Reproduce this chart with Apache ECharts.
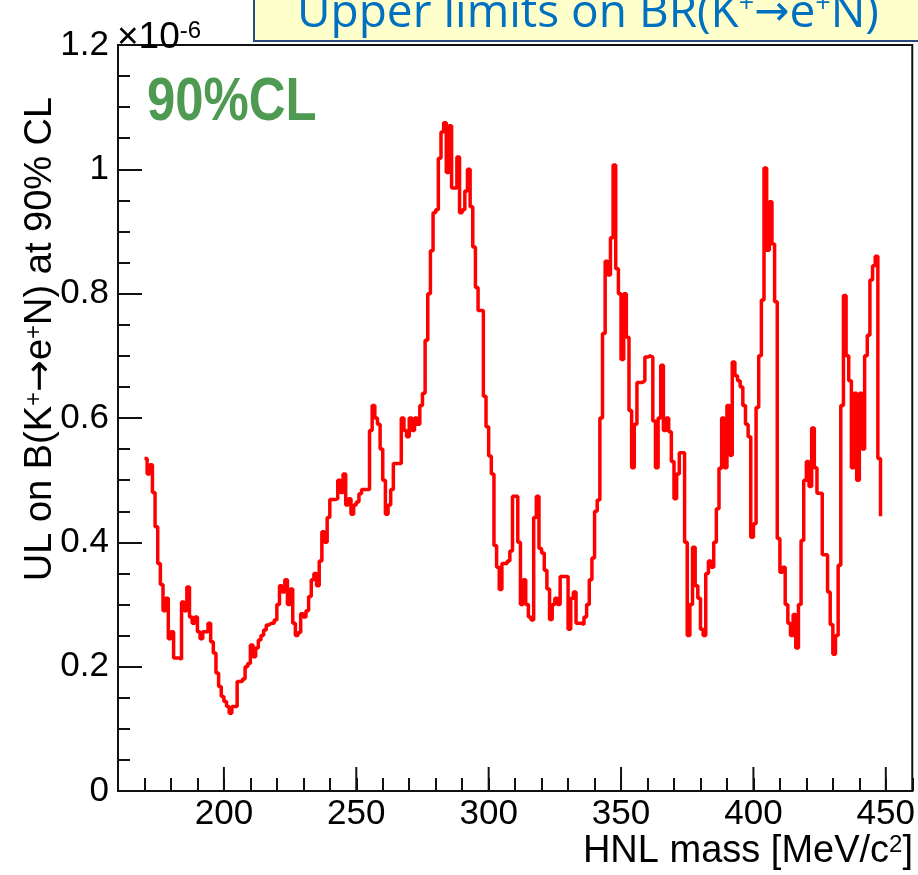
<!DOCTYPE html>
<html>
<head>
<meta charset="utf-8">
<script src="https://cdn.jsdelivr.net/npm/echarts@6/dist/echarts.min.js"></script>
<style>
  html, body { margin: 0; padding: 0; background: #ffffff; }
  #chart { width: 918px; height: 875px; }
</style>
</head>
<body>
<div id="chart"></div>
<script>
// Upper limit on B(K+ -> e+ N) at 90% CL, in units of 1e-6,
// one entry per 1 MeV/c^2 mass bin starting at firstBinMass.
const firstBinMass = 170;
const binWidth = 1;
const ulValues = [
  0.535, 0.51, 0.525, 0.48, 0.425, 0.366, 0.332, 0.29, 0.31, 0.245,     // 170-179
  0.256, 0.214, 0.214, 0.212, 0.304, 0.29, 0.328, 0.28, 0.27, 0.28,     // 180-189
  0.256, 0.245, 0.256, 0.256, 0.27, 0.24, 0.222, 0.19, 0.168, 0.152,    // 190-199
  0.144, 0.136, 0.125, 0.136, 0.136, 0.176, 0.176, 0.18, 0.2, 0.205,    // 200-209
  0.235, 0.216, 0.23, 0.243, 0.25, 0.259, 0.267, 0.27, 0.27, 0.275,     // 210-219
  0.3, 0.33, 0.32, 0.34, 0.3, 0.325, 0.27, 0.25, 0.255, 0.285,          // 220-229
  0.28, 0.29, 0.313, 0.34, 0.35, 0.33, 0.37, 0.417, 0.4, 0.44,          // 230-239
  0.469, 0.469, 0.47, 0.5, 0.48, 0.51, 0.46, 0.47, 0.445, 0.46,         // 240-249
  0.465, 0.478, 0.485, 0.485, 0.485, 0.58, 0.62, 0.6, 0.59, 0.55,       // 250-259
  0.5, 0.445, 0.46, 0.485, 0.527, 0.527, 0.527, 0.6, 0.58, 0.57,        // 260-269
  0.6, 0.58, 0.6, 0.59, 0.62, 0.64, 0.725, 0.8, 0.869, 0.93,            // 270-279
  0.935, 1.018, 1.06, 1.075, 0.995, 1.07, 0.97, 0.97, 1.02, 0.93,       // 280-289
  0.935, 0.965, 1.0, 0.94, 0.875, 0.81, 0.773, 0.773, 0.635, 0.586,     // 290-299
  0.539, 0.51, 0.395, 0.36, 0.324, 0.366, 0.366, 0.37, 0.386, 0.474,    // 300-309
  0.474, 0.4, 0.3, 0.34, 0.3, 0.28, 0.275, 0.44, 0.474, 0.39,           // 310-319
  0.383, 0.355, 0.325, 0.276, 0.3, 0.31, 0.3, 0.345, 0.345, 0.345,      // 320-329
  0.26, 0.31, 0.32, 0.27, 0.27, 0.268, 0.28, 0.3, 0.34, 0.375,          // 330-339
  0.45, 0.468, 0.6, 0.736, 0.852, 0.83, 0.89, 1.007, 0.84, 0.8,         // 340-349
  0.694, 0.8, 0.73, 0.612, 0.52, 0.59, 0.657, 0.657, 0.66, 0.698,       // 350-359
  0.7, 0.698, 0.595, 0.52, 0.6, 0.685, 0.58, 0.6, 0.578, 0.53,          // 360-369
  0.47, 0.51, 0.544, 0.544, 0.4, 0.25, 0.3, 0.392, 0.33, 0.31,          // 370-379
  0.26, 0.25, 0.35, 0.37, 0.36, 0.4, 0.454, 0.519, 0.6, 0.52,           // 380-389
  0.62, 0.54, 0.69, 0.668, 0.66, 0.65, 0.62, 0.59, 0.57, 0.408,         // 390-399
  0.43, 0.617, 0.7, 0.79, 1.002, 0.87, 0.948, 0.88, 0.787, 0.406,       // 400-409
  0.352, 0.36, 0.3, 0.27, 0.25, 0.284, 0.23, 0.3, 0.403, 0.5,           // 410-419
  0.53, 0.49, 0.584, 0.52, 0.479, 0.479, 0.38, 0.38, 0.32, 0.268,       // 420-429
  0.22, 0.25, 0.363, 0.62, 0.797, 0.7, 0.66, 0.52, 0.64, 0.5,           // 430-439
  0.64, 0.55, 0.7, 0.733, 0.822, 0.845, 0.86, 0.535                    // 440-447
];
// value the histogram drops to at its upper edge
const lastEdgeValue = 0.442;

const xMin = 160, xMax = 460;
const xMajorTicks = [200, 250, 300, 350, 400, 450];
const yMin = 0, yMax = 1.2, yStep = 0.2;

const TXT = 'Liberation Sans, Arial, Helvetica, sans-serif';
const ARROW_FONT = 'DejaVu Sans, sans-serif';
const BANNER_FONT = 'Open Sans, DejaVu Sans, sans-serif';

// bin low edges paired with values, closed with the upper edge of the last bin
const stepPoints = ulValues.map((v, i) => [firstBinMass + i * binWidth, v]);
stepPoints.push([firstBinMass + ulValues.length * binWidth, lastEdgeValue]);

const chart = echarts.init(document.getElementById('chart'), null, { renderer: 'canvas' });

function titleRich(size) {
  return {
    s: { fontSize: Math.round(size * 0.62), fontFamily: TXT, fill: '#000', verticalAlign: 'top' },
    a: { fontSize: size, fontFamily: ARROW_FONT, fill: '#000' }
  };
}

chart.setOption({
  animation: false,
  backgroundColor: '#ffffff',
  grid: {
    left: 118, top: 45, width: 798, height: 746,
    show: true, borderColor: '#111', borderWidth: 2, backgroundColor: 'transparent'
  },
  xAxis: {
    type: 'value', min: xMin, max: xMax, interval: 10,
    axisLine: { show: true, lineStyle: { color: '#111', width: 2 } },
    axisTick: { show: true, inside: true, length: 13, lineStyle: { color: '#111', width: 2 } },
    splitLine: { show: false },
    axisLabel: {
      fontSize: 35, fontFamily: TXT, color: '#000', margin: 6,
      formatter: v => (xMajorTicks.indexOf(v) >= 0 ? String(v) : '')
    }
  },
  yAxis: {
    type: 'value', min: yMin, max: yMax, interval: yStep,
    axisLine: { show: true, lineStyle: { color: '#111', width: 2 } },
    axisTick: { show: true, inside: true, length: 24, lineStyle: { color: '#111', width: 2 } },
    minorTick: { show: true, splitNumber: 4, length: 12, lineStyle: { color: '#111', width: 2 } },
    splitLine: { show: false },
    minorSplitLine: { show: false },
    axisLabel: { fontSize: 35, fontFamily: TXT, color: '#000', margin: 9 }
  },
  series: [
    {
      name: 'UL 90% CL',
      type: 'line',
      step: 'end',
      data: stepPoints,
      showSymbol: false,
      lineStyle: { color: '#ff0000', width: 3.5 },
      z: 5
    },
    {
      // long ticks at the labelled masses
      name: 'major ticks',
      type: 'custom',
      silent: true,
      clip: false,
      data: xMajorTicks.map(v => [v, yMin]),
      renderItem: function (params, api) {
        const p = api.coord([api.value(0), api.value(1)]);
        return {
          type: 'line',
          shape: { x1: p[0], y1: p[1], x2: p[0], y2: p[1] - 24 },
          style: { stroke: '#111', lineWidth: 2 }
        };
      },
      z: 4
    }
  ],
  graphic: [
    {
      type: 'rect', left: 253, top: -4,
      shape: { width: 700, height: 44 },
      style: { fill: '#ffffcc', stroke: '#2a4a7a', lineWidth: 2 },
      z: 10
    },
    {
      type: 'text', x: 297, y: 37,
      style: {
        text: 'Upper limits on BR(K{s|+}{a|→}e{s|+}N)',
        fill: '#0070c0', fontSize: 46, fontFamily: BANNER_FONT,
        verticalAlign: 'bottom', align: 'left',
        rich: {
          s: { fontSize: 27, fontFamily: BANNER_FONT, fill: '#0070c0', verticalAlign: 'top' },
          a: { fontSize: 42, fontFamily: ARROW_FONT, fill: '#0070c0' }
        }
      },
      z: 11
    },
    {
      type: 'text', x: 147, y: 72, scaleX: 0.82,
      style: {
        text: '90%CL', fill: '#4f9a53', fontSize: 62, fontWeight: 'bold',
        fontFamily: TXT, verticalAlign: 'top', align: 'left'
      },
      z: 11
    },
    {
      type: 'text', x: 117, y: 56,
      style: {
        text: '×10{s|-6}', fill: '#000', fontSize: 37, fontFamily: TXT,
        verticalAlign: 'bottom', align: 'left',
        rich: { s: { fontSize: 24, fontFamily: TXT, fill: '#000', verticalAlign: 'top' } }
      },
      z: 11
    },
    {
      type: 'text', x: 913, y: 871,
      style: {
        text: 'HNL mass [MeV/c{s|2}]', fill: '#000', fontSize: 38, fontFamily: TXT,
        verticalAlign: 'bottom', align: 'right',
        rich: titleRich(38)
      },
      z: 11
    },
    {
      type: 'text', x: 41, y: 339, rotation: Math.PI / 2,
      style: {
        text: 'UL on B(K{s|+}{a|→}e{s|+}N) at 90% CL', fill: '#000', fontSize: 38, fontFamily: TXT,
        verticalAlign: 'middle', align: 'center',
        rich: titleRich(38)
      },
      z: 11
    }
  ]
});
</script>
</body>
</html>
